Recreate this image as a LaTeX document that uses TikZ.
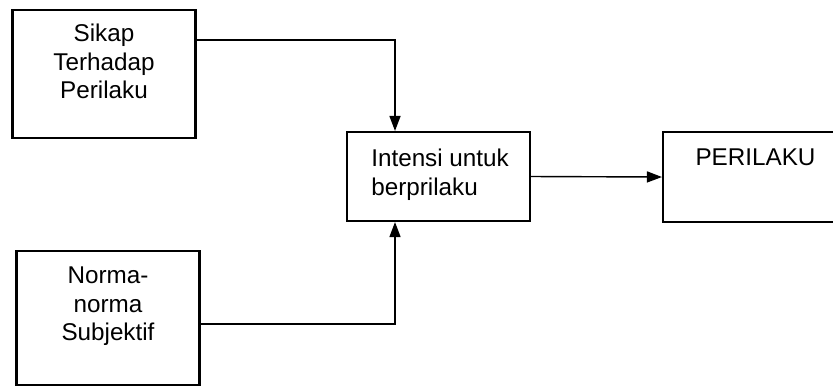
\documentclass[tikz,border=0pt]{standalone}
\usepackage{fontspec}
\setmainfont{Liberation Sans}
\usetikzlibrary{arrows.meta,positioning}
\tikzset{
  box/.style={draw,line width=1.2pt,minimum width=3.66cm,inner sep=0pt},
  txt/.style={inner sep=0pt,font=\fontsize{13.8}{16.2}\selectfont},
  flow/.style={line width=0.8pt,-{Triangle[length=0.3cm,width=0.22cm]}}
}
\begin{document}
\begin{tikzpicture}[x=0.02cm,y=-0.02cm]
\clip (0,0) rectangle (833,387);
\fill[white] (0,0) rectangle (833,387);
% boxes
\node (sikap) [box,minimum height=2.56cm] at (104,74) {};
\node (norma) [box,minimum height=2.68cm] at (108,318) {};
\node (intensi) [box,minimum height=1.78cm] at (438.5,176.5) {};
\node (perilaku) [box,minimum height=1.8cm,minimum width=3.7cm] at (755.5,177) {};
% texts
\node (sikaptxt) [txt,align=center,below=0.3cm of sikap.north] {Sikap\\Terhadap\\Perilaku};
\node (normatxt) [txt,align=center,below=0.34cm of norma.north] {Norma-\\norma\\Subjektif};
\node (intensitxt) [txt,align=left,anchor=north west] at ([xshift=0.5cm,yshift=-0.36cm]intensi.north west) {Intensi untuk\\berprilaku};
\node (perilakutxt) [txt,below=0.36cm of perilaku.north] {PERILAKU};
% arrows
\draw[flow] ([yshift=-0.62cm]sikap.north east) -| ([xshift=-0.87cm]intensi.north);
\draw[flow] ([yshift=-0.12cm]norma.east) -| ([xshift=-0.87cm]intensi.south);
\draw[flow] (intensi.east) -- (perilaku.west);
\end{tikzpicture}
\end{document}
